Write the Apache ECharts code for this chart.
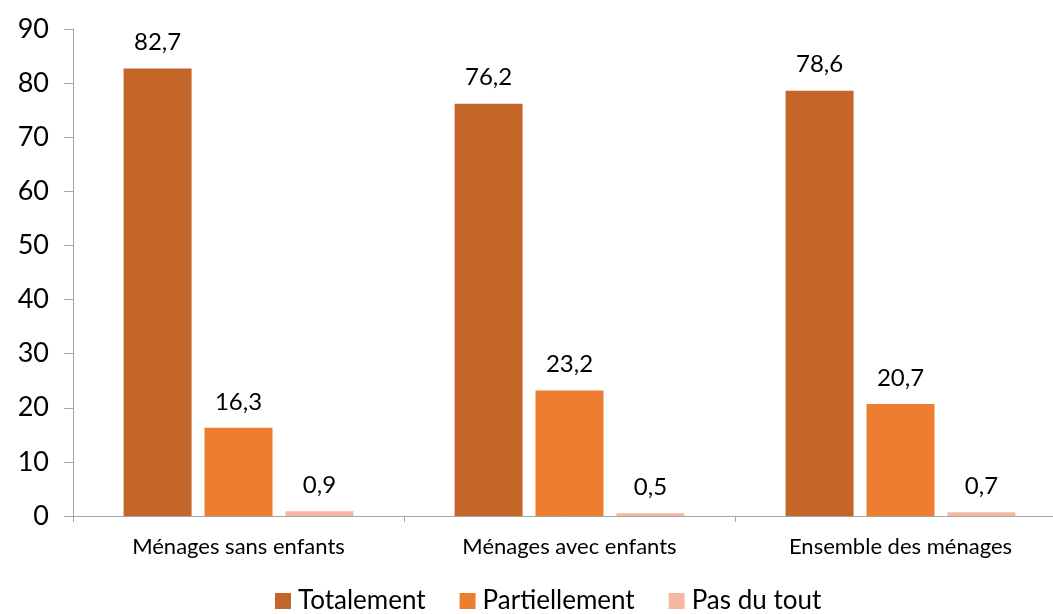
<!DOCTYPE html>
<html>
<head>
<meta charset="utf-8">
<script src="https://cdn.jsdelivr.net/npm/echarts@6/dist/echarts.min.js"></script>
<style>
html, body { margin: 0; padding: 0; background: #fff; }
#chart { width: 1053px; height: 614px; }
</style>
</head>
<body>
<div id="chart"></div>
<script>
var categories = ['Ménages sans enfants', 'Ménages avec enfants', 'Ensemble des ménages'];
var totalement = [82.7, 76.2, 78.6];
var partiellement = [16.3, 23.2, 20.7];
var pasDuTout = [0.9, 0.5, 0.7];
var yTicks = [0, 10, 20, 30, 40, 50, 60, 70, 80, 90];

var font = 'Lato, "Open Sans", sans-serif';

function mkSeries(name, data, color) {
    return {
        name: name,
        type: 'bar',
        data: data,
        barWidth: 68,
        barGap: '19%',
        itemStyle: { color: color },
        label: {
            show: true,
            position: 'top',
            distance: 14,
            fontSize: 24,
            fontFamily: font,
            color: '#000',
            formatter: function (p) { return String(p.value).replace('.', ','); }
        }
    };
}

var chart = echarts.init(document.getElementById('chart'));
chart.setOption({
    animation: false,
    grid: { left: 73, top: 29, width: 993, height: 487, outerBoundsMode: 'none', containLabel: false },
    legend: {
        top: 583,
        left: 270,
        itemWidth: 16,
        itemHeight: 16,
        itemGap: 34,
        icon: 'rect',
        textStyle: { fontSize: 26, fontFamily: font, color: '#000', padding: [0, 0, 0, 2] },
        data: ['Totalement', 'Partiellement', 'Pas du tout']
    },
    xAxis: {
        type: 'category',
        data: categories,
        axisLine: { lineStyle: { color: '#a6a6a6' } },
        axisTick: { show: true, alignWithLabel: false, length: 6, lineStyle: { color: '#a6a6a6' } },
        axisLabel: { fontSize: 22, fontFamily: font, color: '#000', margin: 20 }
    },
    yAxis: {
        type: 'value',
        min: yTicks[0],
        max: yTicks[yTicks.length - 1],
        interval: 10,
        axisLine: { show: true, lineStyle: { color: '#a6a6a6' } },
        axisTick: { show: true, length: 9, lineStyle: { color: '#a6a6a6' } },
        splitLine: { show: false },
        axisLabel: { fontSize: 27, fontFamily: font, color: '#000', margin: 24 }
    },
    series: [
        mkSeries('Totalement', totalement, '#c4652a'),
        mkSeries('Partiellement', partiellement, '#ed7d31'),
        mkSeries('Pas du tout', pasDuTout, '#f4b8a2')
    ]
});
</script>
</body>
</html>
